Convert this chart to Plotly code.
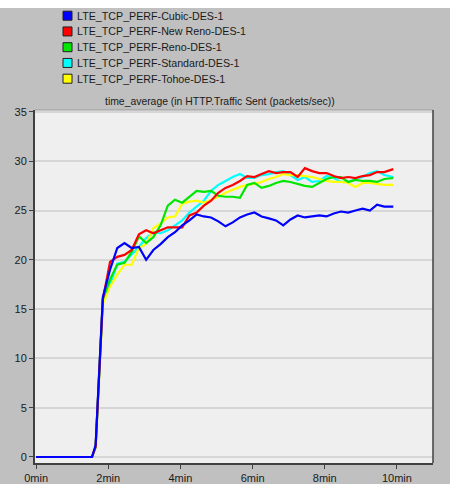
''' OPNET-style time_average chart of HTTP traffic sent for five TCP variants '''

import plotly.graph_objects as go

# Sample times (minutes)
time_min = [0, 1.55, 1.65, 1.85, 2.05, 2.25, 2.45, 2.65, 2.85, 3.05, 3.25, 3.45, 3.65, 3.85,
            4.05, 4.25, 4.45, 4.65, 4.85, 5.05, 5.25, 5.45, 5.65, 5.85, 6.05, 6.25, 6.45,
            6.65, 6.85, 7.05, 7.25, 7.45, 7.65, 7.85, 8.05, 8.25, 8.45, 8.65, 8.85, 9.05,
            9.25, 9.45, 9.65, 9.9]

cubic = [0, 0, 1.2, 16.2, 19.0, 21.2, 21.7, 21.2, 21.3, 20.0, 21.0, 21.6, 22.3, 22.8,
         23.5, 24.0, 24.6, 24.4, 24.3, 23.9, 23.4, 23.8, 24.3, 24.6, 24.8, 24.4, 24.2,
         24.0, 23.5, 24.1, 24.5, 24.3, 24.4, 24.5, 24.4, 24.7, 24.9, 24.8, 25.0, 25.2,
         25.0, 25.6, 25.4, 25.4]
new_reno = [0, 0, 1.0, 16.0, 19.8, 20.3, 20.5, 21.0, 22.6, 23.0, 22.7, 23.0, 23.3, 23.3,
            23.3, 24.5, 24.8, 25.5, 26.0, 26.8, 27.3, 27.6, 28.0, 28.5, 28.4, 28.7, 29.0,
            28.8, 28.9, 28.9, 28.4, 29.3, 29.0, 28.8, 28.8, 28.5, 28.3, 28.4, 28.3, 28.5,
            28.6, 28.9, 28.9, 29.2]
reno = [0, 0, 1.0, 16.0, 18.0, 19.5, 19.7, 20.8, 22.4, 21.7, 22.3, 23.5, 25.5, 26.1,
        25.8, 26.4, 27.0, 26.9, 27.0, 26.5, 26.4, 26.4, 26.3, 27.6, 27.8, 27.3, 27.5,
        27.8, 28.0, 27.9, 27.7, 27.5, 27.4, 27.8, 28.2, 28.4, 28.4, 27.9, 28.1, 28.0,
        28.0, 27.9, 28.2, 28.3]
standard = [0, 0, 1.0, 15.8, 17.5, 19.6, 19.8, 20.5, 21.3, 22.2, 22.8, 22.7, 23.0, 23.5,
            24.0, 24.8, 25.4, 26.0, 27.0, 27.6, 28.0, 28.4, 28.7, 28.3, 28.3, 28.6, 28.7,
            28.9, 29.0, 28.6, 28.1, 28.4, 27.9, 28.0, 28.5, 28.3, 27.9, 27.9, 28.2, 28.4,
            28.8, 29.0, 28.6, 28.4]
tahoe = [0, 0, 1.0, 15.5, 17.3, 18.5, 19.5, 19.5, 21.2, 21.6, 23.2, 23.7, 24.3, 24.4,
         25.7, 25.9, 26.0, 25.8, 26.1, 26.4, 26.8, 27.1, 27.4, 27.6, 27.7, 27.9, 28.2,
         28.4, 28.7, 28.6, 28.6, 28.5, 28.4, 28.2, 28.0, 27.9, 27.9, 27.8, 27.4, 27.8,
         27.8, 27.7, 27.6, 27.6]

series_names = ['LTE_TCP_PERF-Cubic-DES-1', 'LTE_TCP_PERF-New Reno-DES-1',
                'LTE_TCP_PERF-Reno-DES-1', 'LTE_TCP_PERF-Standard-DES-1',
                'LTE_TCP_PERF-Tohoe-DES-1']
series_values = [cubic, new_reno, reno, standard, tahoe]
series_colors = ['#0000ff', '#ff0000', '#00e600', '#00ffff', '#ffff00']

x_tickvals = [0, 2, 4, 6, 8, 10]
x_ticktext = ['0min', '2min', '4min', '6min', '8min', '10min']
y_tickvals = [0, 5, 10, 15, 20, 25, 30, 35]

W, H = 450, 484
L, R, T, B = 35, 433, 110, 463  # plot box in pixels


def px_x(px):
    return (px - L) / (R - L)


def px_y(py):
    return (B - py) / (B - T)


FONT = dict(family='Liberation Sans, Arial, sans-serif', size=11, color='#1a1a1a')
LEGEND_FONT = dict(FONT, size=10.7)
TITLE_FONT = dict(FONT, size=10.4)

fig = go.Figure()

# Draw order: cyan, yellow, green, red, blue on top
for i in [3, 4, 2, 1, 0]:
    fig.add_trace(go.Scatter(
        x=time_min, y=series_values[i], mode='lines', name=series_names[i],
        line=dict(color=series_colors[i], width=2.2), showlegend=False
    ))

shapes = []
annotations = []

# White strip at the top of the screenshot
shapes.append(dict(type='rect', xref='paper', yref='paper', x0=px_x(0), x1=px_x(W),
                   y0=px_y(0), y1=px_y(8), fillcolor='white', line=dict(width=0), layer='below'))

# Hand-built legend: small bordered squares with labels
for i, name in enumerate(series_names):
    cy = 15.7 + i * 15.75
    shapes.append(dict(type='rect', xref='paper', yref='paper',
                       x0=px_x(63), x1=px_x(72), y0=px_y(cy + 4.5), y1=px_y(cy - 4.5),
                       fillcolor=series_colors[i], line=dict(color='#202020', width=1)))
    annotations.append(dict(text=name, xref='paper', yref='paper', x=px_x(75), y=px_y(cy),
                            xanchor='left', yanchor='middle', showarrow=False, font=LEGEND_FONT))

# Chart title above the plot box
annotations.append(dict(text='time_average (in HTTP.Traffic Sent (packets/sec))',
                        xref='paper', yref='paper', x=px_x(220), y=px_y(101),
                        xanchor='center', yanchor='middle', showarrow=False, font=TITLE_FONT))

# Top (light) and right (dark) edges of the plot box
shapes.append(dict(type='line', xref='paper', yref='paper', x0=0, x1=1, y0=1, y1=1,
                   line=dict(color='#9a9a9a', width=1)))
shapes.append(dict(type='line', xref='paper', yref='paper', x0=1, x1=1, y0=0, y1=1,
                   line=dict(color='#404040', width=1.5)))

fig.update_layout(
    width=W, height=H,
    margin=dict(l=L, r=W - R, t=T, b=H - B, pad=0),
    paper_bgcolor='#c0c0c0',
    plot_bgcolor='#efefef',
    font=FONT,
    showlegend=False,
    shapes=shapes,
    annotations=annotations,
    xaxis=dict(
        range=[-0.03, 11.0], tickvals=x_tickvals, ticktext=x_ticktext, automargin=False,
        showgrid=False, zeroline=False, showline=True, linecolor='#404040', linewidth=2,
        ticks='outside', ticklen=4, tickcolor='#404040', tickwidth=1, tickfont=FONT,
    ),
    yaxis=dict(
        range=[-0.61, 35.2], tickvals=y_tickvals, automargin=False,
        showgrid=True, gridcolor='#d6d6d6', gridwidth=1.5, zeroline=False,
        showline=True, linecolor='#404040', linewidth=2,
        ticks='outside', ticklen=4, tickcolor='#404040', tickwidth=1, tickfont=FONT,
    ),
)

# Drop the default page margin so the figure sits at the window's top-left corner
fig.write_html('out.html', config={'displayModeBar': False},
               post_script="document.body.style.margin='0';")
